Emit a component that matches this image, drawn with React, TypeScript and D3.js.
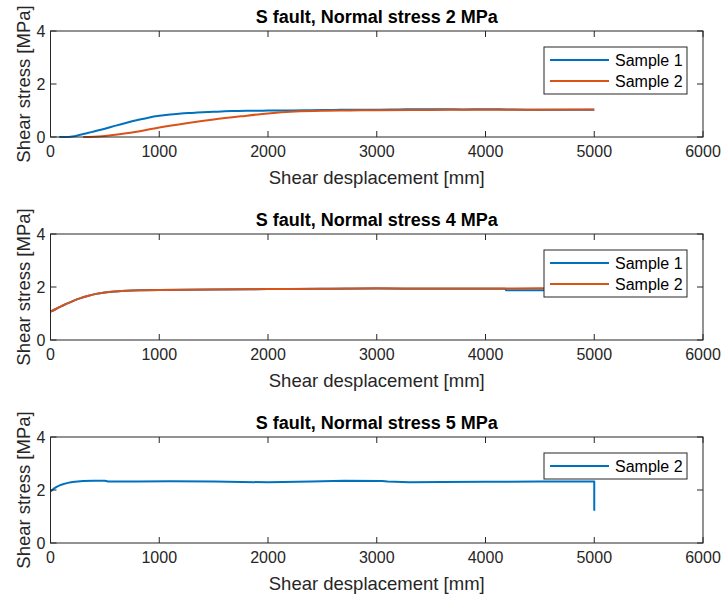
import React from "react";
import * as d3 from "d3";

type P = [number, number];

const titles = [
  "S fault, Normal stress 2 MPa",
  "S fault, Normal stress 4 MPa",
  "S fault, Normal stress 5 MPa",
];
const xTicks = [0, 1000, 2000, 3000, 4000, 5000, 6000];
const yTicks = [0, 2, 4];
const xLabel = "Shear desplacement [mm]";
const yLabel = "Shear stress [MPa]";

const top1Sample1: P[] = [
  [80, 0], [140, 0], [200, 0.02], [250, 0.06], [300, 0.11], [350, 0.16], [400, 0.21],
  [500, 0.31], [600, 0.43], [700, 0.54], [800, 0.64], [900, 0.73],
  [1000, 0.8], [1100, 0.85], [1200, 0.89], [1300, 0.91], [1400, 0.93], [1500, 0.95],
  [1600, 0.97], [1700, 0.98], [1800, 0.99], [1900, 0.99], [2000, 1.0], [2200, 1.0],
  [2400, 1.01], [2600, 1.02], [2800, 1.03], [3000, 1.03], [3200, 1.04], [3400, 1.05],
  [3600, 1.05], [3800, 1.04], [4000, 1.05], [4200, 1.04], [4400, 1.03], [4600, 1.03],
  [4800, 1.03], [5000, 1.03],
];
const top1Sample2: P[] = [
  [300, 0], [400, 0.01], [500, 0.04], [750, 0.17], [1000, 0.36], [1250, 0.52],
  [1500, 0.66], [1750, 0.78], [2000, 0.89], [2250, 0.96], [2500, 0.99], [2750, 1.0],
  [3000, 1.01], [3500, 1.02], [4000, 1.03], [4500, 1.03], [5000, 1.04],
];
const mid2Sample1: P[] = [
  [0, 1.07], [50, 1.17], [100, 1.28], [150, 1.37], [200, 1.46], [270, 1.57], [350, 1.67],
  [420, 1.74], [500, 1.79], [600, 1.83], [700, 1.86], [850, 1.88], [1000, 1.89],
  [1500, 1.91], [2000, 1.92], [2500, 1.93], [3000, 1.94], [3500, 1.93], [4000, 1.93],
  [4180, 1.93], [4190, 1.88], [5000, 1.88],
];
const mid2Sample2: P[] = [
  [0, 1.07], [50, 1.17], [100, 1.28], [150, 1.37], [200, 1.46], [270, 1.57], [350, 1.67],
  [420, 1.74], [500, 1.79], [600, 1.83], [700, 1.86], [850, 1.88], [1000, 1.89],
  [1500, 1.91], [2000, 1.92], [2500, 1.93], [3000, 1.95], [3500, 1.94], [4000, 1.94],
  [4500, 1.95], [5000, 1.95],
];
const bot3Sample2: P[] = [
  [0, 1.94], [30, 2.05], [60, 2.13], [100, 2.2], [150, 2.26], [200, 2.3], [300, 2.34],
  [400, 2.35], [500, 2.35], [530, 2.32], [800, 2.32], [1100, 2.33], [1500, 2.32],
  [2000, 2.29], [2400, 2.32], [2700, 2.35], [3050, 2.34], [3100, 2.32], [3300, 2.29],
  [3600, 2.3], [4000, 2.31], [4500, 2.32], [4990, 2.32], [5000, 2.32], [5000, 1.22],
];

const seriesNames = [["Sample 1", "Sample 2"], ["Sample 1", "Sample 2"], ["Sample 2"]];
const seriesData = [[top1Sample1, top1Sample2], [mid2Sample1, mid2Sample2], [bot3Sample2]];

const BLUE = "#0072BD";
const ORANGE = "#D95319";
const AX = "#262626";
const FONT = "'Liberation Sans', Arial, Helvetica, sans-serif";

const left = 50.5;
const right = 703;
const tops = [31, 234, 437];
const plotH = 106;

function Panel({ idx }: { idx: number }) {
  const t = tops[idx];
  const b = t + plotH;
  const x = d3.scaleLinear().domain([0, 6000]).range([left, right]);
  const y = d3.scaleLinear().domain([0, 4]).range([b, t]);
  const line = d3
    .line<P>()
    .x((d) => x(d[0]))
    .y((d) => y(d[1]))
    .curve(idx === 2 ? d3.curveLinear : d3.curveMonotoneX);
  const names = seriesNames[idx];
  const data = seriesData[idx];
  const colors = names.map((n, i) => (idx === 2 ? BLUE : i === 0 ? BLUE : ORANGE));
  const legX = right - 16 - 143;
  const legY = t + 16;
  const rowH = 21;
  const legH = names.length * rowH + 5;
  const cx = (left + right) / 2;
  const tl = 6;
  return (
    <g>
      <text x={cx} y={t - 8.5} textAnchor="middle" fontFamily={FONT} fontWeight="bold" fontSize={18} fill="#000">
        {titles[idx]}
      </text>
      {data.map((d, i) => (
        <path key={i} d={line(d) || ""} fill="none" stroke={colors[i]} strokeWidth={2} strokeLinejoin="round" />
      ))}
      <rect x={left} y={t} width={right - left} height={plotH} fill="none" stroke={AX} strokeWidth={1} />
      {xTicks.map((v) => (
        <g key={"x" + v}>
          <line x1={x(v)} x2={x(v)} y1={b} y2={b - tl} stroke={AX} strokeWidth={1} />
          <line x1={x(v)} x2={x(v)} y1={t} y2={t + tl} stroke={AX} strokeWidth={1} />
          <text x={x(v)} y={b + 19.5} textAnchor="middle" fontFamily={FONT} fontSize={16} fill={AX}>
            {v}
          </text>
        </g>
      ))}
      {yTicks.map((v) => (
        <g key={"y" + v}>
          <line x1={left} x2={left + tl} y1={y(v)} y2={y(v)} stroke={AX} strokeWidth={1} />
          <line x1={right} x2={right - tl} y1={y(v)} y2={y(v)} stroke={AX} strokeWidth={1} />
          <text x={45.5} y={y(v) + 5.7} textAnchor="end" fontFamily={FONT} fontSize={16} fill={AX}>
            {v}
          </text>
        </g>
      ))}
      <text x={cx} y={b + 47} textAnchor="middle" fontFamily={FONT} fontSize={18.5} fill={AX}>
        {xLabel}
      </text>
      <text
        transform={`translate(29.5,${(t + b) / 2}) rotate(-90)`}
        textAnchor="middle"
        fontFamily={FONT}
        fontSize={18.5}
        fill={AX}
      >
        {yLabel}
      </text>
      <rect x={legX} y={legY} width={143} height={legH} fill="#fff" stroke={AX} strokeWidth={1} />
      {names.map((n, i) => {
        const cy = legY + 2.5 + rowH / 2 + i * rowH;
        return (
          <g key={n + i}>
            <line x1={legX + 6} x2={legX + 65} y1={cy} y2={cy} stroke={colors[i]} strokeWidth={2} />
            <text x={legX + 71} y={cy + 5.7} fontFamily={FONT} fontSize={16} fill="#000">
              {n}
            </text>
          </g>
        );
      })}
    </g>
  );
}

export default function App() {
  return (
    <svg
      width={723}
      height={601}
      viewBox="0 0 723 601"
      style={{ position: "absolute", left: 0, top: 0, background: "#fff" }}
    >
      <rect x={0} y={0} width={723} height={601} fill="#fff" />
      {[0, 1, 2].map((i) => (
        <Panel key={i} idx={i} />
      ))}
    </svg>
  );
}
